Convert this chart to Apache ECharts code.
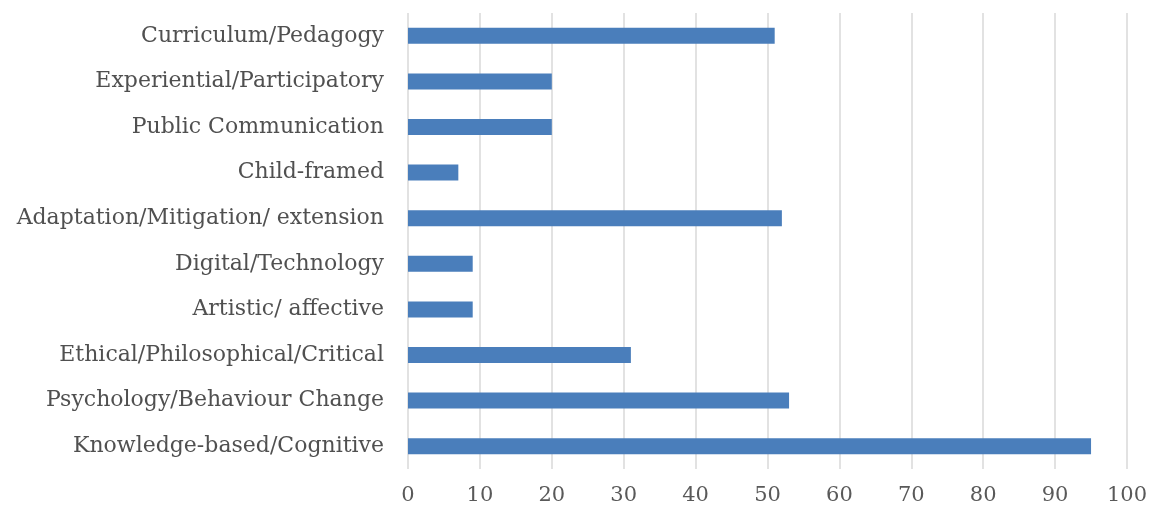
<!DOCTYPE html>
<html>
<head>
<meta charset="utf-8">
<script src="https://cdn.jsdelivr.net/npm/echarts@6/dist/echarts.min.js"></script>
<style>html,body{margin:0;padding:0;background:#fff}#c{width:1157px;height:515px}</style>
</head>
<body>
<div id="c"></div>
<script>
const categories = [
  "Knowledge-based/Cognitive",
  "Psychology/Behaviour Change",
  "Ethical/Philosophical/Critical",
  "Artistic/ affective",
  "Digital/Technology",
  "Adaptation/Mitigation/ extension",
  "Child-framed",
  "Public Communication",
  "Experiential/Participatory",
  "Curriculum/Pedagogy"
];
const values = [95, 53, 31, 9, 9, 52, 7, 20, 20, 51];
const xTicks = [0, 10, 20, 30, 40, 50, 60, 70, 80, 90, 100];

const chart = echarts.init(document.getElementById('c'), null, {renderer: 'canvas'});
const font = '"DejaVu Serif", "Liberation Serif", serif';
chart.setOption({
  animation: false,
  grid: {left: 408, right: 30, top: 13, bottom: 46, containLabel: false},
  xAxis: {
    type: 'value', min: xTicks[0], max: xTicks[xTicks.length - 1], interval: 10,
    axisLine: {show: false}, axisTick: {show: false},
    splitLine: {show: true, lineStyle: {color: '#d9d9d9', width: 1.5}},
    axisLabel: {color: '#595959', fontFamily: font, fontSize: 21, margin: 16}
  },
  yAxis: {
    type: 'category', data: categories,
    axisLine: {show: false}, axisTick: {show: false},
    axisLabel: {color: '#505050', fontFamily: font, fontSize: 22, margin: 24}
  },
  series: [{
    type: 'bar', data: values, barWidth: 16,
    itemStyle: {color: '#4a7ebb'}
  }]
});
</script>
</body>
</html>
